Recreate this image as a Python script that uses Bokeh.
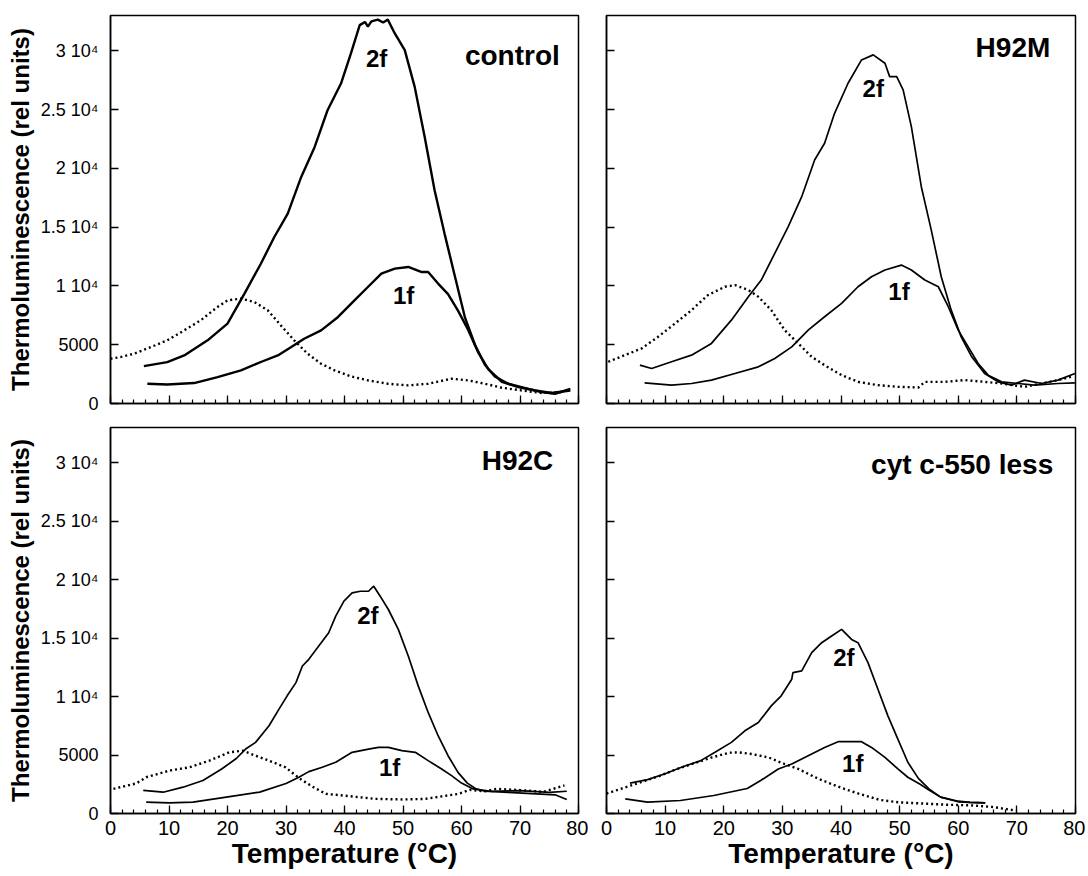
from bokeh.plotting import figure
from bokeh.layouts import column, row
from bokeh.models import Label, FixedTicker, Range1d, CustomJSTickFormatter, Title
from bokeh.embed import file_html
from bokeh.resources import INLINE

# ---------------- data (temperature in °C, thermoluminescence in rel. units) -------------
temp_ticks = [0, 10, 20, 30, 40, 50, 60, 70, 80]
temp_minor = list(range(0, 81, 2))
tl_ticks = [0, 5000, 10000, 15000, 20000, 25000, 30000]
tl_tick_labels = ["0", "5000", "1 10\u2074", "1.5 10\u2074", "2 10\u2074", "2.5 10\u2074", "3 10\u2074"]

# control
control_2f_t = [5.7, 9.7, 12.6, 16.6, 20.0, 22.9, 25.7, 28.0, 30.3, 32.6, 34.9, 37.1, 39.4, 41.1, 42.6, 43.5,
                44.0, 44.6, 45.7, 46.6, 47.4, 48.6, 50.3, 52.0, 53.7, 55.4, 57.1, 58.9, 60.6, 62.3, 64.0, 65.7,
                68.0, 70.9, 73.7, 76.0, 78.6]
control_2f_tl = [3180, 3520, 4090, 5370, 6790, 9340, 11890, 14160, 16150, 19270, 21820, 24940, 27210, 29770,
                 32180, 32450, 32050, 32500, 32650, 32400, 32650, 31470, 30050, 26930, 22680, 18140, 14450, 10760,
                 7300, 5000, 3300, 2300, 1680, 1310, 970, 830, 1250]
control_1f_t = [6.3, 9.7, 14.3, 18.3, 22.3, 25.7, 28.6, 30.9, 33.1, 36.0, 38.9, 41.7, 44.0, 46.3, 48.6, 50.9,
                53.1, 54.3, 56.0, 57.7, 59.4, 61.1, 62.9, 64.6, 66.9, 69.7, 72.6, 75.4, 78.6]
control_1f_tl = [1680, 1620, 1740, 2250, 2820, 3530, 4090, 4800, 5510, 6220, 7360, 8770, 9910, 11040, 11470,
                 11610, 11190, 11190, 10200, 9300, 7900, 6300, 4300, 2900, 1850, 1400, 1110, 890, 1110]
control_dark_t = [0.0, 1.7, 4.0, 6.9, 9.7, 12.6, 15.4, 18.3, 20.0, 22.3, 24.6, 26.9, 29.1, 31.4, 33.7, 36.0,
                  38.3, 41.1, 44.0, 47.4, 50.9, 54.3, 58.3, 61.1, 64.0, 66.9, 70.3, 73.7, 77.1]
control_dark_tl = [3810, 3950, 4230, 4800, 5370, 6220, 7070, 8210, 8770, 8920, 8630, 7920, 6650, 5370, 4230,
                   3380, 2820, 2310, 1970, 1680, 1540, 1680, 2110, 1970, 1680, 1340, 1110, 890, 970]

# H92M
h92m_2f_t = [5.7, 7.7, 11.1, 14.5, 17.9, 21.3, 24.2, 26.4, 28.7, 31.0, 33.3, 35.5, 37.2, 38.9, 41.2, 43.5, 45.5,
             47.5, 48.3, 49.5, 50.6, 52.0, 53.7, 55.4, 57.1, 58.8, 60.5, 62.3, 64.5, 66.8, 69.1, 71.3, 74.2, 77.0,
             79.9]
h92m_2f_tl = [3260, 2980, 3550, 4110, 5110, 7090, 9080, 10500, 12770, 15040, 17590, 20710, 22130, 24680, 27240,
              29220, 29650, 28940, 27800, 27800, 26670, 23550, 18440, 14750, 10780, 7940, 5670, 3970, 2550, 1840,
              1560, 1990, 1700, 1990, 2550]
h92m_1f_t = [6.5, 11.1, 14.5, 17.9, 21.9, 25.9, 28.7, 31.6, 34.4, 37.2, 40.1, 42.9, 45.2, 47.5, 50.3, 52.0,
             54.3, 56.6, 58.3, 60.0, 61.7, 63.4, 65.1, 67.4, 70.2, 73.0, 77.0, 79.9]
h92m_1f_tl = [1760, 1560, 1700, 1990, 2550, 3120, 3830, 4820, 6240, 7380, 8510, 9930, 10780, 11350, 11770,
              11350, 10500, 9930, 8230, 6240, 4820, 3400, 2410, 1840, 1700, 1560, 1700, 1760]
h92m_dark_t = [0.3, 3.1, 6.0, 8.8, 11.7, 14.5, 17.3, 20.2, 21.9, 24.2, 25.9, 28.1, 30.4, 32.7, 35.0, 37.2, 40.1,
               42.9, 46.3, 49.7, 53.2, 54.3, 57.7, 61.1, 64.5, 67.4, 71.3, 74.2, 77.0, 79.3]
h92m_dark_tl = [3550, 4110, 4680, 5670, 6810, 7940, 9220, 9930, 10070, 9650, 9080, 7940, 6240, 5110, 3970,
                3260, 2410, 1840, 1560, 1420, 1360, 1840, 1840, 1990, 1840, 1700, 1420, 1700, 1990, 2270]

# H92C
h92c_2f_t = [5.6, 9.0, 12.4, 15.8, 19.0, 21.5, 23.1, 24.8, 27.1, 28.8, 30.2, 31.7, 32.8, 33.9, 35.6, 37.3, 38.5,
             39.9, 41.3, 42.7, 44.1, 45.0, 46.1, 47.5, 49.2, 50.9, 52.6, 54.3, 56.0, 57.7, 59.4, 61.0, 62.5, 64.0,
             68.0, 72.0, 76.0, 78.0]
h92c_2f_tl = [1970, 1820, 2250, 2820, 3800, 4700, 5510, 6080, 7500, 8920, 10060, 11190, 12610, 13180, 14320,
              15450, 16870, 18150, 18860, 19000, 19000, 19430, 18580, 17440, 15740, 13460, 10910, 8640, 6650, 4940,
              3520, 2600, 2100, 1900, 1800, 1700, 1600, 1200]
h92c_1f_t = [6.1, 10.0, 14.1, 19.8, 25.5, 30.0, 32.2, 33.9, 36.2, 38.5, 41.3, 44.1, 45.8, 47.5, 49.8, 52.1,
             54.3, 56.6, 58.3, 60.0, 62.0, 65.0, 70.0, 75.0, 78.0]
h92c_1f_tl = [970, 900, 970, 1400, 1830, 2570, 3100, 3580, 3950, 4380, 5230, 5510, 5650, 5650, 5370, 5230, 4520,
              3810, 3240, 2600, 2100, 1900, 1950, 1800, 1900]
h92c_dark_t = [0.5, 4.4, 6.1, 10.1, 13.5, 16.9, 20.3, 22.6, 24.8, 27.1, 29.9, 32.3, 34.5, 36.8, 39.7, 45.3,
               50.0, 53.8, 59.5, 61.4, 64.0, 66.0, 70.0, 74.0, 77.6]
h92c_dark_tl = [2110, 2570, 3100, 3670, 3950, 4520, 5230, 5370, 4940, 4520, 3950, 3000, 2300, 1680, 1540, 1250,
                1200, 1250, 1680, 2020, 1900, 2100, 2000, 1850, 2400]

# cyt c-550 less
cyt_2f_t = [4.0, 7.0, 10.0, 13.0, 16.0, 18.5, 21.3, 23.6, 25.9, 28.1, 29.8, 31.6, 31.8, 33.3, 35.0, 36.7, 38.4,
            40.1, 41.8, 42.9, 44.6, 46.3, 48.0, 49.7, 51.4, 53.2, 55.0, 57.0, 60.0, 62.0, 64.6]
cyt_2f_tl = [2600, 2900, 3400, 4000, 4500, 5230, 6080, 7070, 7780, 9200, 10060, 11480, 12040, 12190, 13750,
             14600, 15170, 15740, 14880, 14600, 12900, 10620, 8350, 6360, 4380, 3000, 2100, 1400, 1000, 950, 900]
cyt_1f_t = [3.2, 7.0, 12.6, 18.3, 24.0, 26.3, 29.3, 31.6, 34.4, 37.2, 39.5, 41.8, 43.5, 45.2, 47.5, 49.7, 51.4,
            53.5, 55.0, 57.0, 60.0, 62.0, 64.6]
cyt_1f_tl = [1250, 970, 1110, 1540, 2140, 2820, 3810, 4230, 4940, 5650, 6140, 6140, 6140, 5650, 4800, 3810,
             3100, 2500, 2000, 1400, 1050, 950, 900]
cyt_dark_t = [0.0, 3.0, 6.0, 9.0, 12.0, 15.0, 18.0, 21.0, 22.5, 24.7, 27.6, 30.4, 32.7, 36.0, 40.0, 43.0, 46.7,
              50.0, 54.0, 58.0, 62.0, 66.0, 69.8]
cyt_dark_tl = [1700, 2200, 2700, 3200, 3800, 4300, 4800, 5200, 5230, 5090, 4800, 4230, 3810, 3000, 2200, 1700,
               1150, 950, 850, 750, 700, 550, 250]

FONT = "Liberation Sans"


def make_panel(w, h, bl, br, bt, bb, show_x, show_y, lw):
    p = figure(width=w, height=h, x_range=Range1d(0, 80), y_range=Range1d(0, 33000),
               output_backend="svg", toolbar_location=None,
               min_border_left=bl, min_border_right=br, min_border_top=bt, min_border_bottom=bb)
    p.xgrid.visible = False
    p.ygrid.visible = False
    p.background_fill_color = "white"
    p.border_fill_color = "white"
    p.outline_line_color = "black"
    p.outline_line_width = 1.5
    p.outline_line_alpha = 1.0

    xa = p.xaxis[0]
    ya = p.yaxis[0]
    xa.ticker = FixedTicker(ticks=temp_ticks, minor_ticks=temp_minor)
    ya.ticker = FixedTicker(ticks=tl_ticks, minor_ticks=[])
    for a in (xa, ya):
        a.axis_line_color = "black"
        a.axis_line_width = 1.5
        a.major_tick_line_color = "black"
        a.major_tick_line_width = 1.3
        a.major_tick_out = 0
        a.major_tick_in = 8
        a.minor_tick_out = 0
        a.major_label_text_color = "black"
        a.major_label_text_font = FONT
        a.axis_label_text_font = FONT
        a.axis_label_text_font_style = "bold"
        a.axis_label_text_color = "black"
    xa.minor_tick_in = 4
    xa.minor_tick_line_color = "black"
    xa.minor_tick_line_width = 1.2
    ya.minor_tick_line_color = None

    if show_x:
        xa.major_label_text_font_size = "20px"
        xa.major_label_standoff = 7
        xa.axis_label = "Temperature (\u00b0C)"
        xa.axis_label_text_font_size = "28px"
        xa.axis_label_standoff = 0
    else:
        xa.formatter = CustomJSTickFormatter(code="return ''")
        xa.major_label_text_font_size = "2px"
        xa.major_label_standoff = 0
    if show_y:
        ya.major_label_text_font_size = "18px"
        ya.major_label_standoff = 12
        ya.major_label_overrides = {t: s for t, s in zip(tl_ticks, tl_tick_labels)}
        p.add_layout(Title(text="Thermoluminescence (rel units)", align="center", offset=14,
                           text_font=FONT, text_font_style="bold", text_font_size="24px",
                           text_color="black", standoff=8), "left")
    else:
        ya.formatter = CustomJSTickFormatter(code="return ''")
        ya.major_label_text_font_size = "2px"
        ya.major_label_standoff = 0
    p._lw = lw
    return p


def add_curves(p, t2, y2, t1, y1, td, yd):
    p.line(td, yd, line_color="black", line_width=2.4, line_dash="2 3")
    p.line(t1, y1, line_color="black", line_width=p._lw)
    p.line(t2, y2, line_color="black", line_width=p._lw)


def add_texts(p, name, nx, ny, x2, y2, x1, y1):
    p.add_layout(Label(x=nx, y=ny, text=name, text_align="right", text_baseline="alphabetic",
                       text_font=FONT, text_font_style="bold", text_font_size="28px", text_color="black"))
    for tx, ty, s in ((x2, y2, "2f"), (x1, y1, "1f")):
        p.add_layout(Label(x=tx, y=ty, text=s, text_align="center", text_baseline="middle",
                           text_font=FONT, text_font_style="bold", text_font_size="24px", text_color="black"))


tl = make_panel(588, 415, 109, 10, 15, 12, False, True, 2.4)
tr = make_panel(497, 415, 18, 10, 15, 12, False, False, 1.7)
bl = make_panel(588, 461, 109, 10, 12, 63, True, True, 1.7)
br = make_panel(497, 461, 18, 10, 12, 63, True, False, 1.7)

add_curves(tl, control_2f_t, control_2f_tl, control_1f_t, control_1f_tl, control_dark_t, control_dark_tl)
add_curves(tr, h92m_2f_t, h92m_2f_tl, h92m_1f_t, h92m_1f_tl, h92m_dark_t, h92m_dark_tl)
add_curves(bl, h92c_2f_t, h92c_2f_tl, h92c_1f_t, h92c_1f_tl, h92c_dark_t, h92c_dark_tl)
add_curves(br, cyt_2f_t, cyt_2f_tl, cyt_1f_t, cyt_1f_tl, cyt_dark_t, cyt_dark_tl)

add_texts(tl, "control", 76.8, 29600, 45.5, 29340, 50.1, 9185)
add_texts(tr, "H92M", 75.7, 30280, 45.5, 26830, 49.9, 9530)
add_texts(bl, "H92C", 75.7, 30180, 44.0, 16930, 47.7, 3930)
add_texts(br, "cyt c-550 less", 76.2, 29840, 40.5, 13340, 42.0, 4275)

layout = column(row(tl, tr), row(bl, br))

with open("out.html", "w") as f:
    f.write(file_html(layout, INLINE))
